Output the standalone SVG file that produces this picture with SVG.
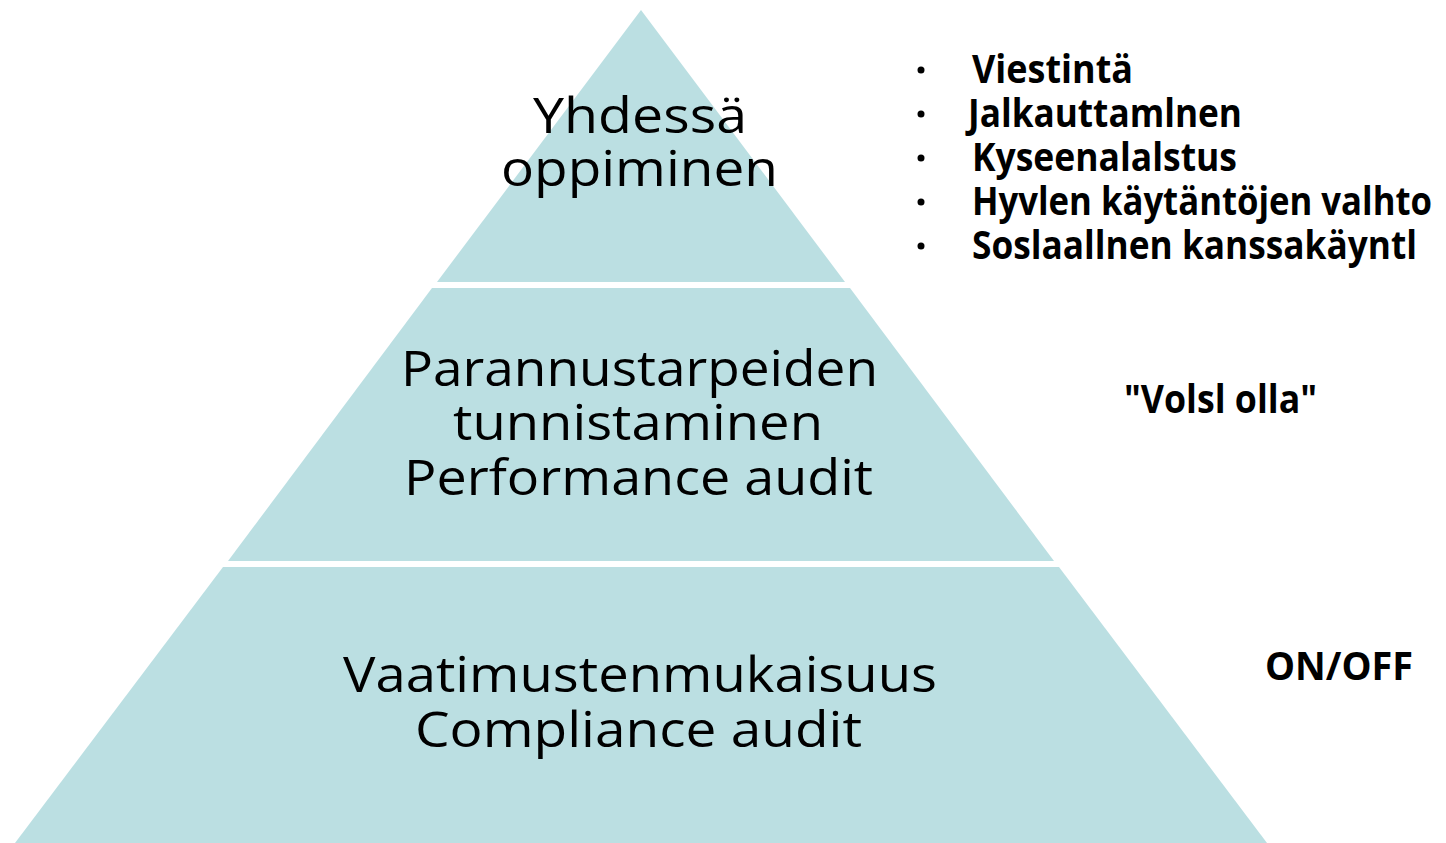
<svg xmlns="http://www.w3.org/2000/svg" width="1446" height="843" viewBox="0 0 1446 843">
<style>
.band{fill:#BBDFE2;}
.pt{font-family:"Open Sans","Noto Sans",sans-serif;font-size:49px;fill:#000;}
.rt{font-family:"Open Sans","Liberation Sans",sans-serif;font-size:40px;font-weight:bold;fill:#000;}
.bul{fill:#000;}
</style>
<rect width="1446" height="843" fill="#fff"/>
<g id="level1">
<polygon class="band" points="641,10 845,282 437,282"/>
<text class="pt" x="533" y="133" textLength="214" lengthAdjust="spacingAndGlyphs">Yhdessä</text>
<text class="pt" x="501" y="186" textLength="277" lengthAdjust="spacingAndGlyphs">oppiminen</text>
</g>
<g id="level2">
<polygon class="band" points="432,288 850,288 1054,561 228,561"/>
<text class="pt" x="401" y="386" textLength="477" lengthAdjust="spacingAndGlyphs">Parannustarpeiden</text>
<text class="pt" x="453" y="440" textLength="370" lengthAdjust="spacingAndGlyphs">tunnistaminen</text>
<text class="pt" x="404" y="495" textLength="469" lengthAdjust="spacingAndGlyphs">Performance audit</text>
</g>
<g id="level3">
<polygon class="band" points="223,567 1059,567 1267,843 15,843"/>
<text class="pt" x="343" y="692" textLength="594" lengthAdjust="spacingAndGlyphs">Vaatimustenmukaisuus</text>
<text class="pt" x="415" y="747" textLength="447" lengthAdjust="spacingAndGlyphs">Compliance audit</text>
</g>
<g id="bullets">
<circle class="bul" cx="921" cy="70" r="3.5"/>
<circle class="bul" cx="921" cy="114" r="3.5"/>
<circle class="bul" cx="921" cy="158" r="3.5"/>
<circle class="bul" cx="921" cy="202" r="3.5"/>
<circle class="bul" cx="921" cy="246" r="3.5"/>
<text class="rt" x="972" y="83" textLength="161" lengthAdjust="spacingAndGlyphs">Viestintä</text>
<text class="rt" x="968" y="127" textLength="274" lengthAdjust="spacingAndGlyphs">Jalkauttamlnen</text>
<text class="rt" x="972" y="171" textLength="265" lengthAdjust="spacingAndGlyphs">Kyseenalalstus</text>
<text class="rt" x="972" y="215" textLength="460" lengthAdjust="spacingAndGlyphs">Hyvlen käytäntöjen valhto</text>
<text class="rt" x="972" y="259" textLength="445" lengthAdjust="spacingAndGlyphs">Soslaallnen kanssakäyntl</text>
</g>
<g id="label-voisi">
<text class="rt" x="1124" y="413" textLength="193" lengthAdjust="spacingAndGlyphs">"Volsl olla"</text>
</g>
<g id="label-onoff">
<text class="rt" x="1265" y="680" textLength="148" lengthAdjust="spacingAndGlyphs">ON/OFF</text>
</g>
<g id="connectors"></g>
</svg>
